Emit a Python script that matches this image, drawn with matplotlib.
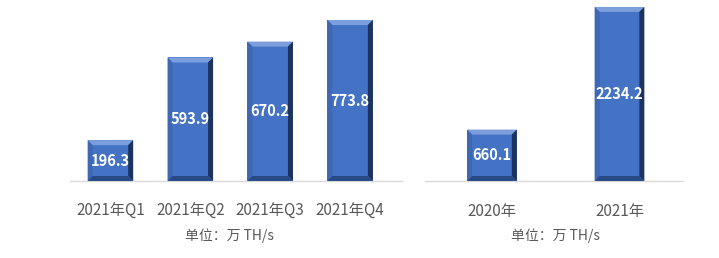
import matplotlib.pyplot as plt
from matplotlib.patches import Polygon

plt.rcParams['font.family'] = ['Noto Sans CJK SC', 'DejaVu Sans']

# quarterly data
q_labels = ['2021年Q1', '2021年Q2', '2021年Q3', '2021年Q4']
q_values = [196.3, 593.9, 670.2, 773.8]
# yearly data
y_labels = ['2020年', '2021年']
y_values = [660.1, 2234.2]
unit_text = '单位：万 TH/s'

main = '#4472C4'


def bevel_bar(ax, x, h, w, b=5):
    # bevel size in pixels -> data units
    inv = ax.transData.inverted()
    p0 = inv.transform((0, 0))
    p1 = inv.transform((b, b))
    dx, dy = p1[0] - p0[0], p1[1] - p0[1]
    l, r = x - w / 2, x + w / 2
    ax.add_patch(Polygon([(l, 0), (r, 0), (r, h), (l, h)], closed=True,
                         fc=main, ec='none', zorder=2))
    # top bevel
    ax.add_patch(Polygon([(l, h), (r, h), (r - dx, h - dy), (l + dx, h - dy)],
                         closed=True, fc='#7C9EDD', ec='none', zorder=3))
    # left bevel
    ax.add_patch(Polygon([(l, 0), (l + dx, dy), (l + dx, h - dy), (l, h)],
                         closed=True, fc='#3F68B4', ec='none', zorder=3))
    # right bevel
    ax.add_patch(Polygon([(r, 0), (r - dx, dy), (r - dx, h - dy), (r, h)],
                         closed=True, fc='#1C335F', ec='none', zorder=3))
    # bottom bevel
    ax.add_patch(Polygon([(l, 0), (r, 0), (r - dx, dy), (l + dx, dy)],
                         closed=True, fc='#2A4A87', ec='none', zorder=3))


def setup(ax, labels, xlim, ylim):
    ax.set_xlim(*xlim)
    ax.set_ylim(*ylim)
    for s in ['top', 'right', 'left']:
        ax.spines[s].set_visible(False)
    ax.spines['bottom'].set_color('#D9D9D9')
    ax.spines['bottom'].set_linewidth(1)
    ax.set_yticks([])
    ax.set_xticks(range(len(labels)))
    ax.set_xticklabels(labels, fontsize=11, color='#595959')
    ax.tick_params(axis='x', length=0, pad=16)


fig = plt.figure(figsize=(7.19, 2.58), dpi=100)
bottom = 77 / 258
height = 181 / 258
ax1 = fig.add_axes([70 / 719, bottom, 332 / 719, height])
ax2 = fig.add_axes([425 / 719, bottom, 258 / 719, height])

setup(ax1, q_labels, (-0.506, 3.65), (0, 870))
setup(ax2, y_labels, (-0.525, 1.498), (0, 2323))

for i, v in enumerate(q_values):
    bevel_bar(ax1, i, v, 0.57)
    ax1.text(i, v / 2, f'{v:.1f}', ha='center', va='center', color='white',
             fontsize=10.5, fontweight='bold', zorder=5)

for i, v in enumerate(y_values):
    bevel_bar(ax2, i, v, 0.39)
    ax2.text(i, v / 2, f'{v:.1f}', ha='center', va='center', color='white',
             fontsize=10.5, fontweight='bold', zorder=5)

fig.text(229 / 719, 1 - 236 / 258, unit_text, ha='center', va='center',
         fontsize=10, color='#595959')
fig.text(555 / 719, 1 - 236 / 258, unit_text, ha='center', va='center',
         fontsize=10, color='#595959')

fig.savefig('out.png', dpi=100)
